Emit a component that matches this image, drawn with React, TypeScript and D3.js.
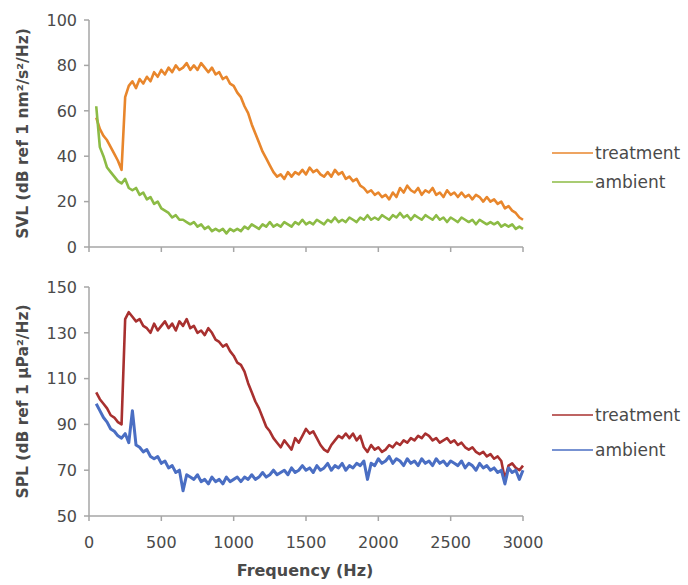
import React from "react";
import * as d3 from "d3";

// frequency bins (Hz), one reading every 25 Hz
const freqs = d3.range(50, 3001, 25);

// top panel: particle velocity level
const svlTreatment = [
  57, 52, 49, 47, 44, 41, 38, 34, 66, 71,
  73, 70, 74, 72, 75, 73, 77, 75, 78, 76,
  79, 77, 80, 78, 79, 81, 78, 80, 78, 81,
  79, 77, 79, 76, 77, 74, 75, 72, 71, 68,
  66, 62, 59, 54, 50, 46, 42, 39, 36, 33,
  31, 32, 30, 33, 31, 33, 32, 34, 32, 35,
  33, 34, 32, 31, 33, 31, 34, 32, 33, 30,
  31, 29, 30, 27, 26, 24, 25, 23, 24, 22,
  23, 21, 24, 22, 26, 24, 27, 25, 24, 26,
  23, 25, 24, 26, 23, 24, 22, 25, 23, 24,
  22, 24, 22, 23, 21, 23, 22, 20, 22, 20,
  21, 19, 20, 17, 18, 16, 15, 13, 12,
];
const svlAmbient = [
  62, 44, 40, 35, 33, 31, 29, 28, 30, 26,
  25, 26, 23, 24, 21, 22, 19, 20, 17, 16,
  15, 13, 14, 12, 12, 11, 10, 11, 9, 10,
  8, 9, 7, 8, 7, 8, 6, 8, 7, 8,
  7, 9, 8, 10, 9, 8, 10, 9, 11, 9,
  10, 9, 11, 10, 9, 11, 10, 12, 10, 11,
  10, 12, 11, 10, 12, 11, 13, 11, 12, 11,
  13, 12, 11, 13, 12, 14, 12, 13, 12, 14,
  13, 12, 14, 13, 15, 13, 14, 12, 14, 13,
  12, 14, 13, 12, 14, 12, 13, 11, 13, 12,
  11, 13, 12, 11, 12, 10, 12, 11, 10, 11,
  10, 11, 9, 10, 9, 10, 8, 9, 8,
];

// bottom panel: sound pressure level
const splTreatment = [
  104, 101, 99, 97, 94, 93, 91, 90, 136, 139,
  137, 135, 136, 133, 132, 130, 134, 131, 133, 135,
  132, 134, 131, 135, 133, 136, 132, 133, 130, 131,
  129, 132, 130, 127, 126, 124, 125, 122, 120, 117,
  116, 113, 108, 104, 100, 97, 93, 89, 87, 84,
  82, 80, 83, 81, 79, 84, 82, 85, 88, 86,
  87, 84, 81, 79, 78, 81, 83, 85, 84, 86,
  84, 86, 83, 85, 80, 78, 81, 79, 80, 78,
  79, 81, 80, 82, 81, 83, 82, 84, 83, 85,
  84, 86, 85, 83, 84, 82, 83, 84, 82, 83,
  81, 82, 80, 79, 80, 78, 77, 78, 76, 77,
  75, 76, 74, 66, 72, 73, 71, 70, 72,
];
const splAmbient = [
  99, 96, 93, 91, 88, 87, 85, 84, 86, 82,
  96, 81, 80, 78, 79, 76, 75, 76, 73, 74,
  71, 72, 69, 70, 61, 68, 67, 66, 68, 65,
  66, 64, 67, 65, 66, 64, 67, 65, 66, 67,
  65, 67, 66, 68, 66, 67, 69, 67, 68, 70,
  68, 69, 70, 68, 71, 69, 70, 72, 70, 71,
  69, 72, 70, 71, 73, 70, 72, 71, 73, 70,
  72, 71, 73, 72, 74, 66, 73, 72, 75, 73,
  74, 76, 73, 75, 74, 72, 75, 73, 74, 72,
  75, 73, 74, 72, 75, 73, 74, 72, 74, 73,
  72, 74, 71, 73, 72, 70, 73, 71, 72, 70,
  71, 69, 70, 64, 71, 69, 70, 66, 70,
];

const xTicks = [0, 500, 1000, 1500, 2000, 2500, 3000];
const svlTicks = [0, 20, 40, 60, 80, 100];
const splTicks = [50, 70, 90, 110, 130, 150];

const axisColor = "#a6a6a6";
const textColor = "#4a4a4a";
const font = "DejaVu Sans";

function Panel({ yScale, ticks, series, title, showXLabels, legendY }) {
  const x = d3.scaleLinear().domain([0, 3000]).range([89, 523]);
  const [y0, y1] = yScale.range();
  const line = d3
    .line<number>()
    .x((_, i) => x(freqs[i]))
    .y((d) => yScale(d));

  return (
    <g>
      {/* y axis */}
      <line x1={89} x2={89} y1={y0} y2={y1} stroke={axisColor} strokeWidth={1.5} />
      {ticks.map((t) => (
        <g key={t}>
          <line x1={84} x2={89} y1={yScale(t)} y2={yScale(t)} stroke={axisColor} strokeWidth={1.5} />
          <text
            x={77}
            y={yScale(t)}
            dy="0.36em"
            textAnchor="end"
            fontSize="16px"
            fontFamily={font}
            fill={textColor}>
            {t}
          </text>
        </g>
      ))}
      {/* x axis */}
      <line x1={89} x2={523} y1={y0} y2={y0} stroke={axisColor} strokeWidth={1.5} />
      {xTicks.map((t) => (
        <g key={t}>
          <line x1={x(t)} x2={x(t)} y1={y0} y2={y0 + 5} stroke={axisColor} strokeWidth={1.5} />
          {showXLabels && (
            <text
              x={x(t)}
              y={y0 + 32}
              textAnchor="middle"
              fontSize="16px"
              fontFamily={font}
              fill={textColor}>
              {t}
            </text>
          )}
        </g>
      ))}
      {/* y title */}
      <text
        transform={`translate(28, ${(y0 + y1) / 2}) rotate(-90)`}
        textAnchor="middle"
        fontSize="15.5px"
        fontWeight="bold"
        fontFamily={font}
        fill={textColor}>
        {title}
      </text>
      {/* series */}
      {series.map((s) => (
        <path
          key={s.name}
          d={line(s.values) || ""}
          fill="none"
          stroke={s.color}
          strokeWidth={s.width}
          strokeLinejoin="round" />
      ))}
      {/* legend */}
      {series.map((s, i) => (
        <g key={s.name} transform={`translate(0, ${legendY[i]})`}>
          <line x1={552} x2={593} y1={0} y2={0} stroke={s.color} strokeWidth={1.5} />
          <text
            x={595}
            y={0}
            dy="0.36em"
            fontSize="17px"
            fontFamily={font}
            fill={textColor}>
            {s.name}
          </text>
        </g>
      ))}
    </g>
  );
}

export default function App() {
  const yTop = d3.scaleLinear().domain([0, 100]).range([247, 20]);
  const yBottom = d3.scaleLinear().domain([50, 150]).range([516, 287]);

  return (
    <svg
      width={688}
      height={585}
      style={{ position: "absolute", left: 0, top: 0, background: "#fff" }}>
      <Panel
        yScale={yTop}
        ticks={svlTicks}
        title="SVL (dB ref 1 nm²/s²/Hz)"
        showXLabels={false}
        legendY={[153, 182]}
        series={[
          { name: "treatment", values: svlTreatment, color: "#e8862c", width: 2.6 },
          { name: "ambient", values: svlAmbient, color: "#8cbb45", width: 2.6 },
        ]} />
      <Panel
        yScale={yBottom}
        ticks={splTicks}
        title="SPL (dB ref 1 μPa²/Hz)"
        showXLabels={true}
        legendY={[415, 450]}
        series={[
          { name: "treatment", values: splTreatment, color: "#a8302f", width: 2.6 },
          { name: "ambient", values: splAmbient, color: "#4a6ec3", width: 3 },
        ]} />
      <text
        x={305}
        y={576}
        textAnchor="middle"
        fontSize="16px"
        fontWeight="bold"
        fontFamily={font}
        fill={textColor}>
        Frequency (Hz)
      </text>
    </svg>
  );
}
